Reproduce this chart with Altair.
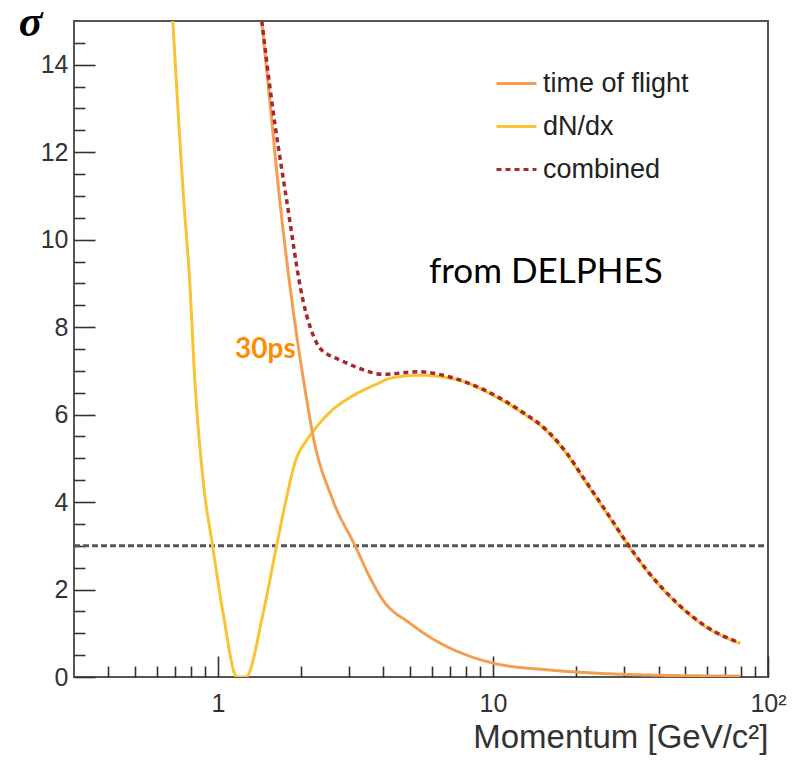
import altair as alt
import pandas as pd

# ---------------- data ----------------
series_names = ["time of flight", "dN/dx", "combined"]

tof_p = [1.445, 1.545, 1.68, 1.858, 2.107, 2.21, 2.62, 3.15, 3.57, 3.98, 4.99, 6.41, 8.04, 10.0, 16.1, 25.0, 40.0, 79.0]
tof_v = [15.0, 13.17, 10.89, 8.61, 6.32, 5.57, 4.04, 3.01, 2.28, 1.76, 1.23, 0.78, 0.50, 0.32, 0.16, 0.08, 0.04, 0.02]

dndx_p = [0.686, 0.752, 0.79, 0.825, 0.884, 0.957, 1.045, 1.175, 1.264, 1.461, 1.635, 1.777, 1.905, 2.101, 2.21,
          2.6, 3.02, 3.88, 4.22, 5.43, 7.59, 9.75, 12.5, 15.7, 18.6, 21.2, 26.6, 31.2, 36.3, 46.7, 60.0, 79.0]
dndx_v = [15.0, 10.89, 9.06, 6.78, 4.5, 3.0, 1.46, 0.0, 0.0, 1.46, 3.0, 4.1, 4.89, 5.41, 5.6,
          6.1, 6.39, 6.73, 6.83, 6.9, 6.78, 6.48, 6.08, 5.62, 5.09, 4.56, 3.64, 2.99, 2.43, 1.68, 1.13, 0.77]

comb_p = [1.445, 1.57, 1.78, 2.04, 2.29, 2.55, 2.71, 3.2, 3.98, 5.3, 6.98, 9.75, 12.5, 15.7, 18.6, 21.2,
          26.6, 31.2, 36.3, 46.7, 60.0, 79.0]
comb_v = [15.0, 13.17, 10.89, 8.61, 7.63, 7.35, 7.28, 7.08, 6.92, 6.98, 6.86, 6.5, 6.1, 5.64, 5.11, 4.58,
          3.66, 3.0, 2.44, 1.69, 1.14, 0.78]

threshold = [3.0]
x_range = [0.3, 100.0]
y_range = [0.0, 15.0]

x_major = [1, 10, 100]
x_minor = [0.4, 0.5, 0.6, 0.7, 0.8, 0.9, 2, 3, 4, 5, 6, 7, 8, 9, 20, 30, 40, 50, 60, 70, 80, 90]
y_major = [0, 2, 4, 6, 8, 10, 12, 14]
y_minor = [0.5, 1, 1.5, 2.5, 3, 3.5, 4.5, 5, 5.5, 6.5, 7, 7.5, 8.5, 9, 9.5, 10.5, 11, 11.5, 12.5, 13, 13.5, 14.5]

# ---------------- tables ----------------
tof_df = pd.DataFrame({"p": tof_p, "sigma": tof_v, "series": series_names[0]})
dndx_df = pd.DataFrame({"p": dndx_p, "sigma": dndx_v, "series": series_names[1]})
comb_df = pd.DataFrame({"p": comb_p, "sigma": comb_v, "series": series_names[2]})
thr_df = pd.DataFrame({"p0": [x_range[0]], "p1": [x_range[1]], "s": threshold})

FONT = "Liberation Sans"
x_scale = alt.Scale(type="log", domain=x_range, nice=False)
y_scale = alt.Scale(domain=y_range, nice=False, zero=False)

color_scale = alt.Scale(domain=series_names, range=["#F39E50", "#F8C433", "#A8282E"])
dash_scale = alt.Scale(domain=series_names, range=[[1, 0], [1, 0], [5, 4]])

legend = alt.Legend(
    title=None, orient="none", legendX=421, legendY=41, symbolType="stroke",
    symbolSize=1600, symbolStrokeWidth=3, labelFont=FONT, labelFontSize=27,
    labelColor="#222", rowPadding=8, labelOffset=5, padding=0,
)

major_x_axis = alt.Axis(
    values=x_major, labelExpr="datum.value >= 100 ? '10²' : format(datum.value, 'd')",
    tickSize=21, offset=-21, domain=False, grid=False, tickColor="#333", tickWidth=1.6,
    labelFont=FONT, labelFontSize=25, labelColor="#333", labelPadding=14,
    labelFlush=False, labelOverlap=False,
    title="Momentum [GeV/c²]", titleFont=FONT, titleFontSize=33, titleFontWeight="normal",
    titleColor="#333", titleX=694, titleY=91, titleAlign="right", titleBaseline="alphabetic",
    orient="bottom",
)
major_y_axis = alt.Axis(
    values=y_major, tickSize=21, offset=-21, domain=False, grid=False, tickColor="#333",
    tickWidth=1.6, labelFont=FONT, labelFontSize=25, labelColor="#333", labelPadding=6,
    labelFlush=False, labelOverlap=False, title=None, orient="left",
)
minor_x_axis = alt.Axis(
    values=x_minor, tickSize=11, offset=-11, domain=False, grid=False, tickColor="#333",
    tickWidth=1.6, labels=False, title=None, orient="bottom",
)
minor_y_axis = alt.Axis(
    values=y_minor, tickSize=11, offset=-11, domain=False, grid=False, tickColor="#333",
    tickWidth=1.6, labels=False, orient="left",
    title="σ", titleAngle=0, titleX=-55, titleY=14, titleAlign="center",
    titleBaseline="alphabetic", titleFont="Liberation Serif", titleFontStyle="italic",
    titleFontWeight="bold", titleFontSize=44, titleColor="#000",
)

thr = alt.Chart(thr_df).mark_rule(color="#555", strokeDash=[6, 3], strokeWidth=3).encode(
    x=alt.X("p0:Q", scale=x_scale, axis=minor_x_axis),
    x2="p1:Q",
    y=alt.Y("s:Q", scale=y_scale, axis=minor_y_axis),
)


def line_layer(df, width, axes):
    return alt.Chart(df).mark_line(strokeWidth=width, interpolate="monotone", clip=True).encode(
        x=alt.X("p:Q", scale=x_scale, axis=major_x_axis if axes else None),
        y=alt.Y("sigma:Q", scale=y_scale, axis=major_y_axis if axes else None),
        color=alt.Color("series:N", scale=color_scale, legend=legend),
        strokeDash=alt.StrokeDash("series:N", scale=dash_scale, legend=legend),
    )


dndx_line = line_layer(dndx_df, 3, True)
tof_line = line_layer(tof_df, 3, False)
comb_line = line_layer(comb_df, 3.5, False)

ann_df = pd.DataFrame({"t": ["from DELPHES"]})
ann = alt.Chart(ann_df).mark_text(
    font="Lato", fontSize=35, color="#000", align="left", baseline="alphabetic"
).encode(text="t:N", x=alt.value(355), y=alt.value(262))

ps_df = pd.DataFrame({"t": ["30ps"]})
ps = alt.Chart(ps_df).mark_text(
    font="Lato", fontSize=28, fontWeight="bold", color="#FF8C00", align="left", baseline="alphabetic"
).encode(text="t:N", x=alt.value(161), y=alt.value(337))

chart = (
    alt.layer(thr, dndx_line, tof_line, comb_line, ann, ps)
    .resolve_axis(x="independent", y="independent")
    .properties(
        width=694, height=656,
        autosize=alt.AutoSizeParams(type="none"),
        padding={"left": 66, "top": 13, "right": 23, "bottom": 80},
        background="white",
    )
    .configure_view(stroke="#555", strokeWidth=2)
)

chart.save("out.html", embed_options={"renderer": "svg", "actions": False})
